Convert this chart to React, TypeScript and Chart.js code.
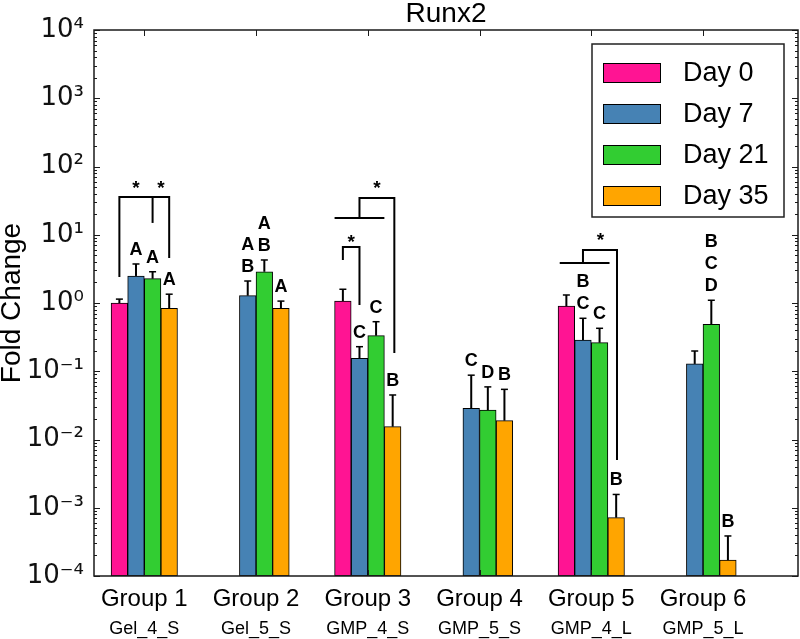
import React, { useEffect, useRef } from 'react';
import { Chart, registerables } from 'chart.js';

Chart.register(...registerables);

// ---------- data ----------
const groupLabels = ['Group 1', 'Group 2', 'Group 3', 'Group 4', 'Group 5', 'Group 6'];
const materialLabels = ['Gel_4_S', 'Gel_5_S', 'GMP_4_S', 'GMP_5_S', 'GMP_4_L', 'GMP_5_L'];
const seriesLabels = ['Day 0', 'Day 7', 'Day 21', 'Day 35'];
const seriesColors = ['#FF1493', '#4682B4', '#32CD32', '#FFA500'];

const day0 = [1.0, null, 1.07, null, 0.9, null];
const day7 = [2.49, 1.28, 0.155, 0.0286, 0.287, 0.128];
const day21 = [2.27, 2.87, 0.332, 0.027, 0.262, 0.487];
const day35 = [0.836, 0.836, 0.0154, 0.0189, 0.000716, 0.000171];

const day0Err = [0.14, null, 0.52, null, 0.41, null];
const day7Err = [1.24, 0.82, 0.074, 0.059, 0.31, 0.07];
const day21Err = [0.6, 1.4, 0.2, 0.032, 0.164, 0.61];
const day35Err = [0.51, 0.23, 0.0295, 0.0354, 0.00085, 0.000215];

const day0Letters = ['', '', '', '', '', ''];
const day7Letters = ['A', 'A\nB', 'C', 'C', 'B\nC', ''];
const day21Letters = ['A', 'A\nB', 'C', 'D', 'C', 'B\nC\nD'];
const day35Letters = ['A', 'A', 'B', 'B', 'B', 'B'];

const yTickValues = [1e-4, 1e-3, 1e-2, 1e-1, 1, 10, 100, 1000, 10000];
const yTickLabels = ['10⁻⁴', '10⁻³', '10⁻²', '10⁻¹', '10⁰', '10¹', '10²', '10³', '10⁴'];

// significance brackets: group index, points as [bar slot, value]
const brackets = [
  { group: 0, points: [[0, 2.4], [0, 35.7], [3, 35.7], [3, 4.56]] },
  { group: 0, points: [[2, 35.7], [2, 14.9]] },
  { group: 2, points: [[-0.5, 17.6], [2.5, 17.6]] },
  { group: 2, points: [[1, 17.6], [1, 34.5], [3.1, 34.5], [3.1, 0.185]] },
  { group: 2, points: [[0, 4.27], [0, 6.62], [1, 6.62], [1, 0.935]] },
  { group: 4, points: [[-0.4, 3.86], [2.6, 3.86]] },
  { group: 4, points: [[1, 3.86], [1, 5.98], [3.05, 5.98], [3.05, 0.005]] },
];
const stars = [
  { group: 0, slot: 1, value: 57.3 },
  { group: 0, slot: 2.5, value: 57.3 },
  { group: 2, slot: 2.05, value: 57.3 },
  { group: 2, slot: 0.5, value: 9.27 },
  { group: 4, slot: 2.05, value: 9.92 },
];

const means = [day0, day7, day21, day35];
const errs = [day0Err, day7Err, day21Err, day35Err];
const letters = [day0Letters, day7Letters, day21Letters, day35Letters];

const BAR_W = 16.6;
const SANS = '"Liberation Sans", Arial, sans-serif';

const annotPlugin = {
  id: 'annot',
  afterDatasetsDraw(chart: any) {
    const { ctx, chartArea: ca, scales } = chart;
    const xs = scales.x;
    const ys = scales.y;
    const slotX = (g: number, s: number) => xs.getPixelForValue(g) + (s - 1.5) * BAR_W;
    ctx.save();

    // error bars + letters
    means.forEach((arr, s) => {
      arr.forEach((m, g) => {
        const e = errs[s][g];
        if (m == null || e == null) return;
        const x = slotX(g, s);
        const y0 = ys.getPixelForValue(m);
        const y1 = ys.getPixelForValue(m + e);
        ctx.strokeStyle = '#000';
        ctx.lineWidth = 2;
        ctx.beginPath();
        ctx.moveTo(x, y0);
        ctx.lineTo(x, y1);
        ctx.stroke();
        ctx.lineWidth = 1.5;
        ctx.beginPath();
        ctx.moveTo(x - 3.5, y1);
        ctx.lineTo(x + 3.5, y1);
        ctx.stroke();
        const txt = letters[s][g];
        if (txt) {
          const lines = txt.split('\n').reverse();
          ctx.fillStyle = '#000';
          ctx.font = `bold 18px ${SANS}`;
          ctx.textAlign = 'center';
          ctx.textBaseline = 'alphabetic';
          lines.forEach((l, k) => ctx.fillText(l, x, y1 - 9 - k * 22));
        }
      });
    });

    // brackets
    ctx.strokeStyle = '#000';
    ctx.lineWidth = 2;
    brackets.forEach((b) => {
      ctx.beginPath();
      b.points.forEach((p, i) => {
        const x = slotX(b.group, p[0]);
        const y = ys.getPixelForValue(p[1]);
        if (i === 0) ctx.moveTo(x, y);
        else ctx.lineTo(x, y);
      });
      ctx.stroke();
    });
    ctx.fillStyle = '#000';
    ctx.font = `bold 19px ${SANS}`;
    ctx.textAlign = 'center';
    ctx.textBaseline = 'alphabetic';
    stars.forEach((st) => {
      const x = slotX(st.group, st.slot);
      const y = ys.getPixelForValue(st.value);
      ctx.fillText('*', x, y + 0.585 * 19);
    });

    // frame + inward ticks
    ctx.strokeStyle = '#1a1a1a';
    ctx.lineWidth = 1.5;
    ctx.strokeRect(ca.left, ca.top, ca.right - ca.left, ca.bottom - ca.top);
    ctx.lineWidth = 1;
    for (let e = -4; e <= 4; e++) {
      for (let m = 1; m <= 9; m++) {
        const v = m * Math.pow(10, e);
        if (v > 10000 * 1.0001) break;
        const y = Math.round(ys.getPixelForValue(v)) + 0.5;
        const len = m === 1 ? 6 : 3;
        ctx.beginPath();
        ctx.moveTo(ca.left, y);
        ctx.lineTo(ca.left + len, y);
        ctx.moveTo(ca.right, y);
        ctx.lineTo(ca.right - len, y);
        ctx.stroke();
      }
    }
    groupLabels.forEach((_, g) => {
      const x = Math.round(xs.getPixelForValue(g)) + 0.5;
      ctx.beginPath();
      ctx.moveTo(x, ca.top);
      ctx.lineTo(x, ca.top + 6);
      ctx.moveTo(x, ca.bottom);
      ctx.lineTo(x, ca.bottom - 6);
      ctx.stroke();
    });

    // legend
    const lw = 192;
    const lh = 173;
    const lx = ca.right - 14 - lw;
    const ly = ca.top + 14;
    ctx.fillStyle = '#fff';
    ctx.fillRect(lx, ly, lw, lh);
    ctx.strokeStyle = '#222';
    ctx.lineWidth = 1.5;
    ctx.strokeRect(lx, ly, lw, lh);
    chart.data.datasets.forEach((ds: any, i: number) => {
      const cy = ly + 29 + i * 41;
      ctx.fillStyle = ds.backgroundColor;
      ctx.fillRect(lx + 11, cy - 10, 58, 20);
      ctx.strokeStyle = '#000';
      ctx.lineWidth = 1;
      ctx.strokeRect(lx + 11.5, cy - 9.5, 57, 19);
      ctx.fillStyle = '#000';
      ctx.font = `27px ${SANS}`;
      ctx.textAlign = 'left';
      ctx.textBaseline = 'middle';
      ctx.fillText(ds.label, lx + 91, cy + 1);
    });

    ctx.restore();
  },
};

export default function App() {
  const ref = useRef<HTMLCanvasElement | null>(null);
  useEffect(() => {
    if (!ref.current) return;
    const datasets = means.map((arr, s) => ({
      label: seriesLabels[s],
      data: arr.map((v, g) => ({ x: g, y: v })),
      backgroundColor: seriesColors[s],
      borderColor: '#000',
      borderWidth: 1,
      borderSkipped: false,
      barThickness: BAR_W,
    }));
    const chart = new Chart(ref.current, {
      type: 'bar',
      data: { datasets },
      plugins: [annotPlugin],
      options: {
        responsive: false,
        animation: false,
        layout: { padding: { left: 0, right: 2, top: 0, bottom: 0 } },
        plugins: {
          legend: { display: false },
          tooltip: { enabled: false },
          title: {
            display: true,
            text: 'Runx2',
            fullSize: false,
            color: '#000',
            font: { family: SANS, size: 28, weight: 'normal', lineHeight: 1 },
            padding: { top: 0, bottom: 2 },
          },
        },
        scales: {
          x: {
            type: 'linear',
            position: 'bottom',
            weight: 0,
            min: -0.45,
            max: 5.85,
            offset: false,
            grid: { display: false, drawTicks: false },
            border: { display: false },
            afterBuildTicks: (s: any) => {
              s.ticks = groupLabels.map((_, i) => ({ value: i }));
            },
            afterFit: (s: any) => {
              s.height = 40;
            },
            ticks: {
              autoSkip: false,
              maxRotation: 0,
              padding: 9,
              color: '#000',
              font: { family: SANS, size: 24 },
              callback: (v: any) => groupLabels[v as number] ?? '',
            },
          },
          x2: {
            type: 'linear',
            position: 'bottom',
            weight: 1,
            min: -0.45,
            max: 5.85,
            offset: false,
            grid: { display: false, drawTicks: false },
            border: { display: false },
            afterBuildTicks: (s: any) => {
              s.ticks = materialLabels.map((_, i) => ({ value: i }));
            },
            afterFit: (s: any) => {
              s.height = 23;
            },
            ticks: {
              autoSkip: false,
              maxRotation: 0,
              padding: 2,
              color: '#000',
              font: { family: SANS, size: 18 },
              callback: (v: any) => materialLabels[v as number] ?? '',
            },
          },
          y: {
            type: 'logarithmic',
            position: 'left',
            min: 1e-4,
            max: 1e4,
            grid: { display: false, drawTicks: false },
            border: { display: false },
            afterBuildTicks: (s: any) => {
              s.ticks = yTickValues.map((v) => ({ value: v }));
            },
            afterFit: (s: any) => {
              s.width = 94;
            },
            title: {
              display: true,
              text: 'Fold Change',
              color: '#000',
              font: { family: SANS, size: 28, lineHeight: 0.88 },
              padding: 0,
            },
            ticks: {
              autoSkip: false,
              padding: 10,
              color: '#111',
              font: { family: '"DejaVu Sans", sans-serif', size: 26 },
              callback: (_v: any, i: number) => yTickLabels[i] ?? '',
            },
          },
        },
      } as any,
    });
    return () => chart.destroy();
  }, []);
  return (
    <div style={{ position: 'absolute', left: 0, top: 0, width: 800, height: 639, background: '#fff' }}>
      <canvas ref={ref} width={800} height={639} style={{ display: 'block' }} />
    </div>
  );
}
